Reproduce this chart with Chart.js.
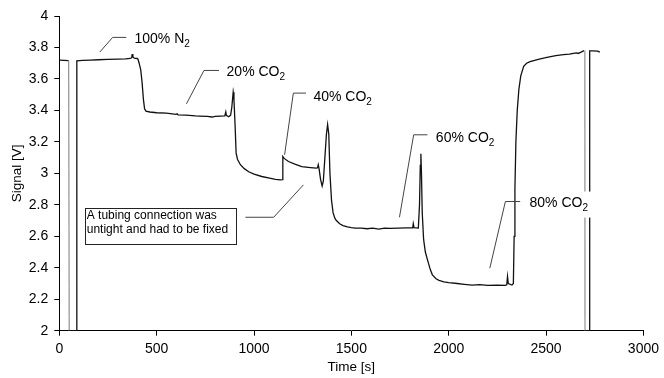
<!DOCTYPE html>
<html>
<head>
<meta charset="utf-8">
<script src="https://cdn.jsdelivr.net/npm/chart.js@4.4.1/dist/chart.umd.min.js"></script>
<style>
  body { margin: 0; background: #fff; }
  #wrap { width: 664px; height: 378px; position: relative; }
</style>
</head>
<body>
<div id="wrap"><canvas id="myChart"></canvas></div>
<script>
// signal trace
const timeS = [0, 25, 48, 51, 89, 90, 120, 160, 200, 250, 300, 340, 365, 372, 375, 378, 385, 400, 404,
  410, 418, 425, 432, 438, 445, 465, 500, 550, 600, 605, 610, 650, 700, 720, 760, 785, 800, 850, 855, 858,
  870, 880, 886, 893, 897, 903, 908, 915, 930, 950, 973, 1000, 1040, 1080, 1110, 1135, 1145, 1148, 1155,
  1177, 1210, 1245, 1290, 1321, 1326, 1330, 1334, 1342, 1350, 1356, 1364, 1372, 1378, 1384, 1390, 1398,
  1406, 1415, 1423, 1440, 1457, 1480, 1500, 1520, 1551, 1580, 1610, 1640, 1670, 1700, 1740, 1780, 1815,
  1818, 1822, 1844, 1850, 1854, 1857, 1860, 1864, 1871, 1880, 1891, 1905, 1916, 1935, 1950, 1975, 2000,
  2044, 2080, 2120, 2160, 2200, 2250, 2290, 2298, 2302, 2306, 2325, 2332, 2336, 2340, 2345, 2352, 2360,
  2370, 2385, 2400, 2418, 2460, 2504, 2550, 2589, 2620, 2640, 2657, 2665, 2680, 2695, 2699, 2700, 2722,
  2724, 2740, 2765, 2776];
const signalV = [3.72, 3.718, 3.716, 2, 2, 3.715, 3.718, 3.72, 3.722, 3.724, 3.726, 3.728, 3.73, 3.735, 3.765, 3.74, 3.732, 3.73, 3.725,
  3.70, 3.66, 3.58, 3.47, 3.41, 3.395, 3.39, 3.385, 3.383, 3.375, 3.378, 3.372, 3.37, 3.365, 3.364, 3.362, 3.358, 3.362, 3.365, 3.39, 3.368,
  3.36, 3.37, 3.42, 3.515, 3.47, 3.30, 3.13, 3.09, 3.055, 3.03, 3.01, 2.995, 2.98, 2.97, 2.962, 2.958, 2.96, 3.107, 3.095,
  3.075, 3.058, 3.043, 3.037, 3.033, 3.035, 3.055, 3.03, 2.96, 2.92, 2.95, 3.1, 3.25, 3.31, 3.25, 3.0, 2.83,
  2.75, 2.715, 2.70, 2.68, 2.668, 2.66, 2.655, 2.652, 2.652, 2.648, 2.652, 2.646, 2.652, 2.65, 2.652, 2.654, 2.653,
  2.68, 2.655, 2.652, 2.8, 3.05, 3.124, 3.0, 2.75, 2.58, 2.50, 2.45, 2.39, 2.355, 2.33, 2.32, 2.31, 2.305,
  2.30, 2.295, 2.29, 2.293, 2.288, 2.29, 2.288, 2.292, 2.345, 2.30, 2.29, 2.30, 2.6, 2.9, 3.2, 3.4, 3.53,
  3.62, 3.68, 3.70, 3.71, 3.725, 3.737, 3.748, 3.754, 3.758, 3.763, 3.765, 3.762, 3.77, 3.78, 3.78, 2, 2,
  3.778, 3.778, 3.777, 3.77];

const xTicks = [0, 500, 1000, 1500, 2000, 2500, 3000];
const yTicks = [2, 2.2, 2.4, 2.6, 2.8, 3, 3.2, 3.4, 3.6, 3.8, 4];

// callout labels (text + subscript), anchored at their baseline
const labelText = ['100% N', '20% CO', '40% CO', '60% CO', '80% CO'];
const labelSub = ['2', '2', '2', '2', '2'];
const labelT = [386, 859, 1305, 1934, 2415];
const labelV = [3.828, 3.616, 3.457, 3.202, 2.789];
// leader lines for each callout
const leaderT = [[208, 274, 344], [653, 743, 820], [1157, 1202, 1267], [1747, 1820, 1891], [2211, 2291, 2367], [1254, 1101, 956]];
const leaderV = [[3.771, 3.864, 3.864], [3.442, 3.654, 3.654], [3.118, 3.51, 3.51], [2.721, 3.245, 3.245], [2.397, 2.821, 2.821], [2.927, 2.721, 2.721]];
// the boxed note
const noteLines = ['A tubing connection was', 'untight and had to be fixed'];
const noteT = [131, 905];
const noteV = [2.779, 2.552];
const noteLineT = 141;
const noteLineV = [2.711, 2.618];

Chart.defaults.font.family = "'Liberation Sans', Arial, sans-serif";
Chart.defaults.font.size = 14;
Chart.defaults.color = '#000';

const notes = {
  id: 'notes',
  afterDatasetsDraw(chart) {
    const { ctx, scales: { x, y } } = chart;
    ctx.save();
    ctx.textBaseline = 'alphabetic';
    ctx.textAlign = 'left';
    labelText.forEach((txt, i) => {
      const px = x.getPixelForValue(labelT[i]);
      const py = y.getPixelForValue(labelV[i]);
      ctx.font = "14px 'Liberation Sans', Arial, sans-serif";
      const w1 = ctx.measureText(txt).width;
      ctx.font = "10px 'Liberation Sans', Arial, sans-serif";
      const w2 = ctx.measureText(labelSub[i]).width;
      ctx.fillStyle = '#fff';
      ctx.fillRect(px - 5, py - 15, w1 + w2 + 12, 26);
      ctx.fillStyle = '#000';
      ctx.font = "14px 'Liberation Sans', Arial, sans-serif";
      ctx.fillText(txt, px, py);
      ctx.font = "10px 'Liberation Sans', Arial, sans-serif";
      ctx.fillText(labelSub[i], px + w1, py + 4);
    });

    ctx.strokeStyle = '#444';
    ctx.lineWidth = 1;
    leaderT.forEach((ts, i) => {
      ctx.beginPath();
      ts.forEach((t, j) => {
        const px = x.getPixelForValue(t);
        const py = y.getPixelForValue(leaderV[i][j]);
        if (j === 0) ctx.moveTo(px, py); else ctx.lineTo(px, py);
      });
      ctx.stroke();
    });

    const bx0 = x.getPixelForValue(noteT[0]), bx1 = x.getPixelForValue(noteT[1]);
    const by0 = y.getPixelForValue(noteV[0]), by1 = y.getPixelForValue(noteV[1]);
    ctx.fillStyle = '#fff';
    ctx.fillRect(bx0, by0, bx1 - bx0, by1 - by0);
    ctx.strokeStyle = '#222';
    ctx.strokeRect(Math.round(bx0) + 0.5, Math.round(by0) + 0.5, Math.round(bx1 - bx0), Math.round(by1 - by0));
    ctx.fillStyle = '#000';
    ctx.font = "12px 'Liberation Sans', Arial, sans-serif";
    noteLines.forEach((ln, i) => {
      ctx.fillText(ln, x.getPixelForValue(noteLineT), y.getPixelForValue(noteLineV[i]));
    });
    ctx.restore();
  }
};

const actx = document.getElementById('myChart');
new Chart(actx, {
  type: 'line',
  data: {
    datasets: [{
      data: timeS.map((t, i) => ({ x: t, y: signalV[i] })),
      borderColor: '#111',
      borderWidth: 1.3,
      pointRadius: 0,
      tension: 0,
      fill: false,
      segment: {
        borderColor: c => (c.p1.parsed.y <= 2 && c.p0.parsed.y > 2) ? '#999' : '#111'
      }
    }]
  },
  options: {
    responsive: true,
    maintainAspectRatio: false,
    animation: false,
    events: [],
    layout: { padding: { left: 0, top: 16, right: 16, bottom: 0 } },
    plugins: { legend: { display: false }, tooltip: { enabled: false } },
    scales: {
      x: {
        type: 'linear',
        min: 0,
        max: 3000,
        afterBuildTicks: s => { s.ticks = xTicks.map(v => ({ value: v })); },
        afterFit: s => { s.height = 47.3; },
        ticks: { padding: 5, callback: v => String(v), font: { size: 14 } },
        grid: { drawOnChartArea: false, drawTicks: true, tickLength: 5, color: '#000' },
        border: { display: true, color: '#000', width: 1 },
        title: { display: true, text: 'Time [s]', font: { size: 13.5 }, padding: { top: 0, bottom: 3 } }
      },
      y: {
        min: 2,
        max: 4,
        afterBuildTicks: s => { s.ticks = yTicks.map(v => ({ value: v })); },
        afterFit: s => { s.width = 59.3; },
        ticks: { padding: 6, callback: v => String(Math.round(v * 10) / 10), font: { size: 14 } },
        grid: { drawOnChartArea: false, drawTicks: true, tickLength: 5, color: '#000' },
        border: { display: true, color: '#000', width: 1 },
        title: { display: true, text: 'Signal [V]', font: { size: 13.5 }, padding: { top: 9, bottom: 0 } }
      }
    }
  },
  plugins: [notes]
});
</script>
</body>
</html>
